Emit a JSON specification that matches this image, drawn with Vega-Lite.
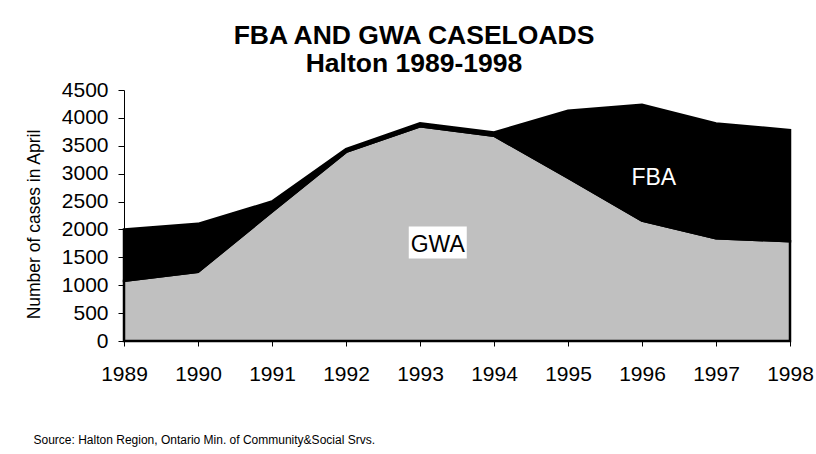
{
  "$schema": "https://vega.github.io/schema/vega-lite/v6.json",
  "width": 666,
  "height": 251,
  "autosize": "none",
  "padding": {"left": 124, "top": 90, "right": 26, "bottom": 113},
  "background": "white",
  "config": {"font": "Liberation Sans", "view": {"stroke": null}},
  "title": {
    "text": ["FBA AND GWA CASELOADS", "Halton 1989-1998"],
    "fontSize": 26.5,
    "fontWeight": "bold",
    "color": "black",
    "anchor": "middle",
    "frame": "group",
    "dx": -43,
    "lineHeight": 28,
    "offset": 2
  },
  "datasets": {
    "caseloads": [
      {"year": 1989, "series": "GWA", "cases": 1080},
      {"year": 1989, "series": "FBA", "cases": 920},
      {"year": 1990, "series": "GWA", "cases": 1240},
      {"year": 1990, "series": "FBA", "cases": 860},
      {"year": 1991, "series": "GWA", "cases": 2320},
      {"year": 1991, "series": "FBA", "cases": 180},
      {"year": 1992, "series": "GWA", "cases": 3390},
      {"year": 1992, "series": "FBA", "cases": 50},
      {"year": 1993, "series": "GWA", "cases": 3850},
      {"year": 1993, "series": "FBA", "cases": 55},
      {"year": 1994, "series": "GWA", "cases": 3680},
      {"year": 1994, "series": "FBA", "cases": 60},
      {"year": 1995, "series": "GWA", "cases": 2930},
      {"year": 1995, "series": "FBA", "cases": 1200},
      {"year": 1996, "series": "GWA", "cases": 2160},
      {"year": 1996, "series": "FBA", "cases": 2075},
      {"year": 1997, "series": "GWA", "cases": 1840},
      {"year": 1997, "series": "FBA", "cases": 2060},
      {"year": 1998, "series": "GWA", "cases": 1790},
      {"year": 1998, "series": "FBA", "cases": 1990}
    ],
    "labels": [
      {"label": "GWA", "year": 1993.24, "cases": 1730},
      {"label": "FBA", "year": 1996.16, "cases": 2915}
    ]
  },
  "encoding": {
    "x": {
      "field": "year",
      "type": "quantitative",
      "scale": {"domain": [1989, 1998], "nice": false, "zero": false},
      "axis": {
        "values": [1989, 1990, 1991, 1992, 1993, 1994, 1995, 1996, 1997, 1998],
        "format": "d",
        "grid": false,
        "labelFontSize": 21,
        "labelColor": "black",
        "labelPadding": 17,
        "labelFlush": false,
        "labelOverlap": false,
        "tickSize": 5,
        "tickColor": "black",
        "domainColor": "black",
        "title": "Source: Halton Region, Ontario Min. of Community&Social Srvs.",
        "titleFontSize": 12,
        "titleFontWeight": "normal",
        "titleColor": "black",
        "titleAlign": "left",
        "titleBaseline": "alphabetic",
        "titleX": -91,
        "titleY": 102
      }
    },
    "y": {
      "field": "cases",
      "type": "quantitative",
      "scale": {"domain": [0, 4500], "nice": false},
      "axis": {
        "values": [0, 500, 1000, 1500, 2000, 2500, 3000, 3500, 4000, 4500],
        "format": "d",
        "grid": false,
        "labelFontSize": 21,
        "labelColor": "black",
        "labelPadding": 10,
        "labelOverlap": false,
        "labelFlush": false,
        "tickSize": 6,
        "tickColor": "black",
        "domainColor": "black",
        "title": "Number of cases in April",
        "titleFontSize": 17.5,
        "titleFontWeight": "normal",
        "titleColor": "black",
        "titlePadding": 18,
        "titleY": 134
      }
    }
  },
  "layer": [
    {
      "data": {"name": "caseloads"},
      "mark": {"type": "area", "stroke": "black", "strokeWidth": 2.5, "strokeJoin": "miter"},
      "encoding": {
        "color": {
          "field": "series",
          "type": "nominal",
          "sort": ["GWA", "FBA"],
          "scale": {"domain": ["GWA", "FBA"], "range": ["#c0c0c0", "#000000"]},
          "legend": null
        }
      }
    },
    {
      "data": {"name": "labels"},
      "transform": [{"filter": "datum.label === 'GWA'"}],
      "mark": {
        "type": "point",
        "shape": "M-1,-0.55L1,-0.55L1,0.55L-1,0.55Z",
        "size": 3364,
        "filled": true,
        "fill": "white",
        "opacity": 1,
        "strokeWidth": 0,
        "yOffset": -2
      }
    },
    {
      "data": {"name": "labels"},
      "transform": [{"filter": "datum.label === 'GWA'"}],
      "mark": {"type": "text", "fontSize": 23, "align": "center", "baseline": "middle", "color": "black"},
      "encoding": {"text": {"field": "label"}}
    },
    {
      "data": {"name": "labels"},
      "transform": [{"filter": "datum.label === 'FBA'"}],
      "mark": {"type": "text", "fontSize": 23, "align": "center", "baseline": "middle", "color": "white"},
      "encoding": {"text": {"field": "label"}}
    }
  ]
}
